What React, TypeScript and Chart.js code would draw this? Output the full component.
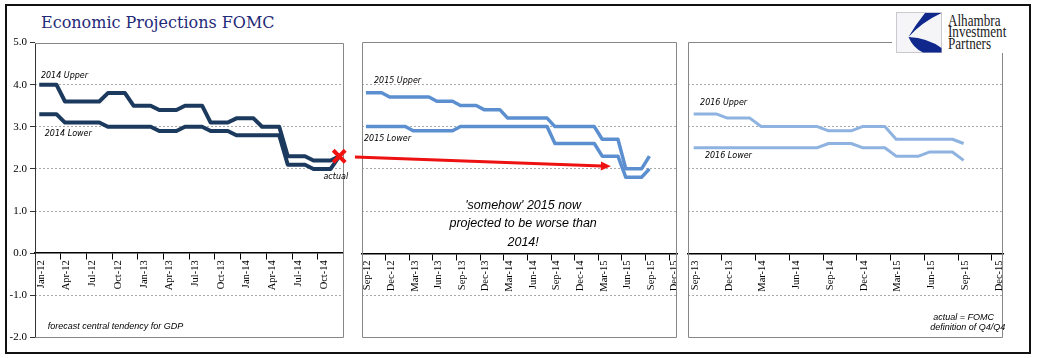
import React, { useEffect, useRef } from "react";
import { Chart, registerables } from "chart.js";

Chart.register(...registerables);

// ---------------- data ----------------
// quarterly tick labels of each panel's month axis
const ticks2014 = ["Jan-12", "Apr-12", "Jul-12", "Oct-12", "Jan-13", "Apr-13", "Jul-13", "Oct-13", "Jan-14", "Apr-14", "Jul-14", "Oct-14"];
const ticks2015 = ["Sep-12", "Dec-12", "Mar-13", "Jun-13", "Sep-13", "Dec-13", "Mar-14", "Jun-14", "Sep-14", "Dec-14", "Mar-15", "Jun-15", "Sep-15", "Dec-15"];
const ticks2016 = ["Sep-13", "Dec-13", "Mar-14", "Jun-14", "Sep-14", "Dec-14", "Mar-15", "Jun-15", "Sep-15", "Dec-15"];

// monthly central-tendency bounds, Jan-12 .. Dec-14
const upper2014 = [4.0, 4.0, 4.0, 3.6, 3.6, 3.6, 3.6, 3.6, 3.8, 3.8, 3.8, 3.5, 3.5, 3.5, 3.4, 3.4, 3.4, 3.5, 3.5, 3.5, 3.1, 3.1, 3.1, 3.2, 3.2, 3.2, 3.0, 3.0, 3.0, 2.3, 2.3, 2.3, 2.2, 2.2, 2.2, 2.3];
const lower2014 = [3.3, 3.3, 3.3, 3.1, 3.1, 3.1, 3.1, 3.1, 3.0, 3.0, 3.0, 3.0, 3.0, 3.0, 2.9, 2.9, 2.9, 3.0, 3.0, 3.0, 2.9, 2.9, 2.9, 2.8, 2.8, 2.8, 2.8, 2.8, 2.8, 2.1, 2.1, 2.1, 2.0, 2.0, 2.0, 2.3];
const actual2014 = [{ month: 35, value: 2.3 }];

// monthly bounds, Sep-12 .. Sep-15
const upper2015 = [3.8, 3.8, 3.8, 3.7, 3.7, 3.7, 3.7, 3.7, 3.7, 3.6, 3.6, 3.6, 3.5, 3.5, 3.5, 3.4, 3.4, 3.4, 3.2, 3.2, 3.2, 3.2, 3.2, 3.2, 3.0, 3.0, 3.0, 3.0, 3.0, 3.0, 2.7, 2.7, 2.7, 2.0, 2.0, 2.0, 2.3];
const lower2015 = [3.0, 3.0, 3.0, 3.0, 3.0, 3.0, 2.9, 2.9, 2.9, 2.9, 2.9, 2.9, 3.0, 3.0, 3.0, 3.0, 3.0, 3.0, 3.0, 3.0, 3.0, 3.0, 3.0, 3.0, 2.6, 2.6, 2.6, 2.6, 2.6, 2.6, 2.3, 2.3, 2.3, 1.8, 1.8, 1.8, 2.0];

// monthly bounds, Sep-13 .. Sep-15
const upper2016 = [3.3, 3.3, 3.3, 3.2, 3.2, 3.2, 3.0, 3.0, 3.0, 3.0, 3.0, 3.0, 2.9, 2.9, 2.9, 3.0, 3.0, 3.0, 2.7, 2.7, 2.7, 2.7, 2.7, 2.7, 2.6];
const lower2016 = [2.5, 2.5, 2.5, 2.5, 2.5, 2.5, 2.5, 2.5, 2.5, 2.5, 2.5, 2.5, 2.6, 2.6, 2.6, 2.5, 2.5, 2.5, 2.3, 2.3, 2.3, 2.4, 2.4, 2.4, 2.2];

const yMin = -2;
const yMax = 5;

// ---------------- styles / layout ----------------
const SMALL = 'italic 8px "DejaVu Sans"';
const NOTE = 'italic 9px "Liberation Sans"';
const BIG = 'italic 12.5px "Liberation Sans"';

type Note = { text: string; x: number; y: number; align: CanvasTextAlign; font: string };
type PanelSpec = {
  box: { left: number; top: number; width: number; height: number };
  padding: { left: number; right: number; top: number; bottom: number };
  yLabels: boolean;
  axisMonths: number;
  tickLabels: string[];
  upper: number[];
  lower: number[];
  color: string;
  lineWidth: number;
  leftBorder: string;
  labelOffset: number;
  notes: Note[];
  actual?: { month: number; value: number }[];
  arrow?: { from: { x: number; y: number }; to: { x: number; y: number } };
};

const panels: PanelSpec[] = [
  {
    box: { left: 0, top: 30, width: 356, height: 320 },
    padding: { left: 8, right: 6, top: 12, bottom: 12 },
    yLabels: true,
    axisMonths: 36,
    tickLabels: ticks2014,
    upper: upper2014,
    lower: lower2014,
    color: "#1B3A5E",
    lineWidth: 4,
    leftBorder: "#333333",
    labelOffset: 6,
    actual: actual2014,
    notes: [
      { text: "2014 Upper", x: 0.69, y: 4.2, align: "left", font: SMALL },
      { text: "2014 Lower", x: 1.14, y: 2.84, align: "left", font: SMALL },
      { text: "actual", x: 35.1, y: 1.8, align: "center", font: SMALL },
      { text: "forecast central tendency for GDP", x: 1.49, y: -1.73, align: "left", font: NOTE },
    ],
  },
  {
    box: { left: 350, top: 30, width: 332, height: 320 },
    padding: { left: 12, right: 5, top: 12, bottom: 12 },
    yLabels: false,
    axisMonths: 40,
    tickLabels: ticks2015,
    upper: upper2015,
    lower: lower2015,
    color: "#5B8FD0",
    lineWidth: 3.5,
    leftBorder: "#878787",
    labelOffset: 5.5,
    arrow: { from: { x: -0.9, y: 2.28 }, to: { x: 31.6, y: 2.06 } },
    notes: [
      { text: "2015 Upper", x: 1.52, y: 4.08, align: "left", font: SMALL },
      { text: "2015 Lower", x: 0.25, y: 2.7, align: "left", font: SMALL },
      { text: "'somehow' 2015 now", x: 20.46, y: 1.13, align: "center", font: BIG },
      { text: "projected to be worse than", x: 20.46, y: 0.7, align: "center", font: BIG },
      { text: "2014!", x: 20.46, y: 0.25, align: "center", font: BIG },
    ],
  },
  {
    box: { left: 680, top: 30, width: 328, height: 320 },
    padding: { left: 8, right: 5, top: 12, bottom: 12 },
    yLabels: false,
    axisMonths: 28,
    tickLabels: ticks2016,
    upper: upper2016,
    lower: lower2016,
    color: "#8EB3E0",
    lineWidth: 3,
    leftBorder: "#878787",
    labelOffset: 7,
    notes: [
      { text: "2016 Upper", x: 1.07, y: 3.57, align: "left", font: SMALL },
      { text: "2016 Lower", x: 1.5, y: 2.31, align: "left", font: SMALL },
      { text: "actual = FOMC", x: 27.2, y: -1.52, align: "right", font: NOTE },
      { text: "definition of Q4/Q4", x: 28.2, y: -1.75, align: "right", font: NOTE },
    ],
  },
];

function PanelChart({ spec }: { spec: PanelSpec }) {
  const ref = useRef<HTMLCanvasElement>(null);

  useEffect(() => {
    const canvas = ref.current;
    if (!canvas) return;
    const pts = (arr: number[]) => arr.map((v, i) => ({ x: i + 0.5, y: v }));
    const lineDs = (label: string, arr: number[]) => ({
      label,
      data: pts(arr),
      borderColor: spec.color,
      backgroundColor: spec.color,
      borderWidth: spec.lineWidth,
      pointRadius: 0,
      tension: 0,
      borderJoinStyle: "round",
      borderCapStyle: "butt",
      fill: false,
      clip: false,
    });
    const datasets: any[] = [lineDs("Upper", spec.upper), lineDs("Lower", spec.lower)];
    if (spec.actual) {
      datasets.push({
        label: "actual",
        data: spec.actual.map((a) => ({ x: a.month + 0.5, y: a.value })),
        showLine: false,
        pointStyle: "crossRot",
        pointRadius: 8.5,
        borderColor: "#F01010",
        backgroundColor: "#F01010",
        borderWidth: 4,
        order: -1,
        clip: false,
      });
    }

    const decor = {
      id: "decor",
      beforeDatasetsDraw(chart: any) {
        const { ctx, chartArea: a } = chart;
        const L = Math.round(a.left) + 0.5;
        const R = Math.round(a.right) - 0.5;
        const T = Math.round(a.top) + 0.5;
        const B = Math.round(a.bottom) - 0.5;
        ctx.save();
        ctx.lineWidth = 1;
        ctx.strokeStyle = "#878787";
        ctx.beginPath();
        ctx.moveTo(L, T);
        ctx.lineTo(R, T);
        ctx.lineTo(R, B);
        ctx.lineTo(L, B);
        ctx.stroke();
        ctx.strokeStyle = spec.leftBorder;
        ctx.beginPath();
        ctx.moveTo(L, T);
        ctx.lineTo(L, B);
        ctx.stroke();
        ctx.restore();
      },
      afterDatasetsDraw(chart: any) {
        const { ctx } = chart;
        const xs = chart.scales.x;
        const ys = chart.scales.y;
        ctx.save();
        ctx.fillStyle = "#000";
        ctx.textBaseline = "middle";
        for (const n of spec.notes) {
          ctx.font = n.font;
          ctx.textAlign = n.align;
          ctx.fillText(n.text, xs.getPixelForValue(n.x), ys.getPixelForValue(n.y));
        }
        if (spec.arrow) {
          const x1 = xs.getPixelForValue(spec.arrow.from.x);
          const y1 = ys.getPixelForValue(spec.arrow.from.y);
          const x2 = xs.getPixelForValue(spec.arrow.to.x);
          const y2 = ys.getPixelForValue(spec.arrow.to.y);
          const ang = Math.atan2(y2 - y1, x2 - x1);
          const headLen = 10;
          const headHalf = 4.5;
          const bx = x2 - headLen * Math.cos(ang);
          const by = y2 - headLen * Math.sin(ang);
          ctx.strokeStyle = "#EE1111";
          ctx.fillStyle = "#EE1111";
          ctx.lineWidth = 3;
          ctx.beginPath();
          ctx.moveTo(x1, y1);
          ctx.lineTo(bx + Math.cos(ang), by + Math.sin(ang));
          ctx.stroke();
          ctx.beginPath();
          ctx.moveTo(x2, y2);
          ctx.lineTo(bx - headHalf * Math.sin(ang), by + headHalf * Math.cos(ang));
          ctx.lineTo(bx + headHalf * Math.sin(ang), by - headHalf * Math.cos(ang));
          ctx.closePath();
          ctx.fill();
        }
        ctx.restore();
      },
    };

    const chart = new Chart(canvas, {
      type: "line",
      data: { datasets },
      options: {
        responsive: false,
        animation: false,
        devicePixelRatio: 1,
        layout: { padding: spec.padding },
        plugins: { legend: { display: false }, tooltip: { enabled: false } },
        scales: {
          x: {
            type: "linear",
            min: 0,
            max: spec.axisMonths,
            position: { y: 0 } as any,
            afterBuildTicks: (s: any) => {
              s.ticks = spec.tickLabels.map((_, i) => ({ value: i * 3 }));
            },
            afterFit: (s: any) => {
              s.paddingLeft = 0;
              s.paddingRight = 0;
            },
            ticks: {
              callback: (_v: any, i: number) => spec.tickLabels[i],
              autoSkip: false,
              minRotation: 90,
              maxRotation: 90,
              font: { family: "Liberation Serif", size: 10.5 },
              color: "#000",
              padding: 1,
              labelOffset: spec.labelOffset,
            },
            grid: {
              drawOnChartArea: false,
              drawTicks: true,
              tickLength: 6,
              tickColor: "#000",
              tickWidth: 1,
            },
            border: { display: true, color: "#000", width: 1.5 },
          },
          y: {
            type: "linear",
            min: yMin,
            max: yMax,
            position: "left",
            afterFit: (s: any) => {
              s.width = spec.yLabels ? 27 : 0;
              s.paddingTop = 0;
              s.paddingBottom = 0;
            },
            ticks: {
              stepSize: 1,
              display: spec.yLabels,
              callback: (v: any) => Number(v).toFixed(1),
              font: { family: "Liberation Serif", size: 11 },
              color: "#000",
              padding: 3,
            },
            grid: {
              color: (c: any) => {
                const v = c.tick ? c.tick.value : null;
                return v === yMin || v === yMax || v === 0 ? "rgba(0,0,0,0)" : "#A9A9A9";
              },
              lineWidth: 1,
              drawTicks: spec.yLabels,
              tickLength: 5,
              tickColor: "#333",
              tickWidth: 1,
            },
            border: { display: false, dash: [2, 2] },
          },
        },
      } as any,
      plugins: [decor],
    });
    return () => chart.destroy();
  }, [spec]);

  return (
    <canvas
      ref={ref}
      width={spec.box.width}
      height={spec.box.height}
      style={{
        position: "absolute",
        left: spec.box.left,
        top: spec.box.top,
        width: spec.box.width,
        height: spec.box.height,
      }}
    />
  );
}

function Logo() {
  const line = (text: string, top: number) => (
    <div
      style={{
        position: "absolute",
        left: 56,
        top,
        fontFamily: '"Liberation Serif", serif',
        fontSize: 16,
        lineHeight: "11.5px",
        color: "#1a1a1a",
        whiteSpace: "nowrap",
        transform: "scaleX(0.82)",
        transformOrigin: "left center",
      }}
    >
      {text}
    </div>
  );
  return (
    <div style={{ position: "absolute", left: 892, top: 7, width: 116, height: 46, background: "#fff" }}>
      <svg style={{ position: "absolute", left: 4, top: 5 }} width={46} height={41} viewBox="0 0 46 41">
        <rect x={0.5} y={0.5} width={45} height={40} fill="#F5F5F8" stroke="#C9C9CF" />
        <path
          d="M29,1 L45.5,1 Q26,10 12.5,25 Q32,26 45.5,36 L45.5,40.5 L27,40.5 Q17,36 12.5,25 Q20,12 29,1 Z"
          fill="#10288C"
        />
      </svg>
      {line("Alhambra", 7.8)}
      {line("Investment", 19.3)}
      {line("Partners", 30.8)}
    </div>
  );
}

export default function App() {
  return (
    <div
      style={{
        position: "fixed",
        left: 0,
        top: 0,
        width: 1054,
        height: 358,
        background: "#fff",
        overflow: "hidden",
      }}
    >
      <div
        style={{
          position: "absolute",
          left: 5,
          top: 4,
          width: 1026,
          height: 350,
          border: "2px solid #111",
          boxSizing: "border-box",
        }}
      />
      <div
        style={{
          position: "absolute",
          left: 41,
          top: 14.7,
          fontFamily: '"DejaVu Serif", serif',
          fontSize: 16,
          lineHeight: "16px",
          color: "#1F2A78",
          whiteSpace: "nowrap",
        }}
      >
        Economic Projections FOMC
      </div>
      {panels.map((p, i) => (
        <PanelChart key={i} spec={p} />
      ))}
      <Logo />
    </div>
  );
}
